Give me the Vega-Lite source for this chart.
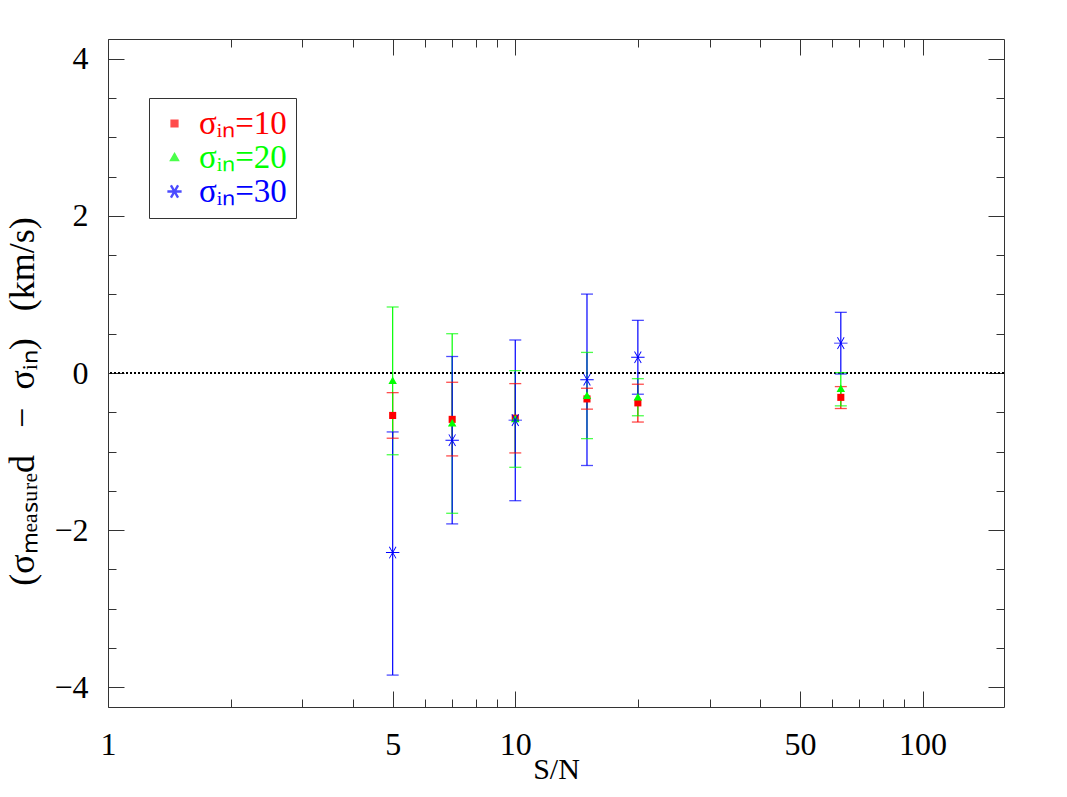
{
  "$schema": "https://vega.github.io/schema/vega-lite/v6.json",
  "width": 896,
  "height": 668,
  "autosize": {"type": "none"},
  "padding": {"left": 108, "top": 39, "right": 63, "bottom": 90},
  "background": "white",
  "data": {
    "values": [
      {"sn": 5, "series": "10", "y": -0.54, "lo": -0.83, "hi": -0.25},
      {"sn": 7, "series": "10", "y": -0.59, "lo": -1.055, "hi": -0.118},
      {"sn": 10, "series": "10", "y": -0.575, "lo": -1.017, "hi": -0.135},
      {"sn": 15, "series": "10", "y": -0.33, "lo": -0.46, "hi": -0.194},
      {"sn": 20, "series": "10", "y": -0.38, "lo": -0.624, "hi": -0.143},
      {"sn": 63, "series": "10", "y": -0.31, "lo": -0.452, "hi": -0.173},
      {"sn": 5, "series": "20", "y": -0.1, "lo": -1.04, "hi": 0.84},
      {"sn": 7, "series": "20", "y": -0.64, "lo": -1.785, "hi": 0.5},
      {"sn": 10, "series": "20", "y": -0.585, "lo": -1.2, "hi": 0.03},
      {"sn": 15, "series": "20", "y": -0.29, "lo": -0.835, "hi": 0.262},
      {"sn": 20, "series": "20", "y": -0.31, "lo": -0.544, "hi": -0.072},
      {"sn": 63, "series": "20", "y": -0.2, "lo": -0.418, "hi": 0.005},
      {"sn": 5, "series": "30", "y": -2.285, "lo": -3.844, "hi": -0.75},
      {"sn": 7, "series": "30", "y": -0.855, "lo": -1.92, "hi": 0.21},
      {"sn": 10, "series": "30", "y": -0.6, "lo": -1.625, "hi": 0.42},
      {"sn": 15, "series": "30", "y": -0.085, "lo": -1.177, "hi": 1.004},
      {"sn": 20, "series": "30", "y": 0.2, "lo": -0.27, "hi": 0.67},
      {"sn": 63, "series": "30", "y": 0.38, "lo": -0.013, "hi": 0.772}
    ]
  },
  "resolve": {"axis": {"x": "independent", "y": "independent"}},
  "layer": [
    {
      "mark": {"type": "rule", "color": "black", "strokeWidth": 1, "strokeDash": [1.5, 2.5]},
      "encoding": {
        "y": {"datum": 0, "type": "quantitative", "scale": {"domain": [-4.25, 4.25], "nice": false, "zero": false}, "axis": null}
      }
    },
    {
      "mark": {"type": "rule", "strokeWidth": 1.2},
      "encoding": {
        "x": {"field": "sn", "type": "quantitative",
          "scale": {"type": "log", "domain": [1, 158.5], "nice": false},
          "axis": {"orient": "bottom", "values": [1, 5, 10, 50, 100], "format": "d", "tickSize": -16, "labelPadding": 38, "labelFlush": false, "labelOverlap": false, "title": "S/N", "titlePadding": -6}},
        "y": {"field": "lo", "type": "quantitative",
          "scale": {"domain": [-4.25, 4.25], "nice": false, "zero": false},
          "axis": {"orient": "left", "values": [-4, -2, 0, 2, 4], "format": "d", "tickSize": -16, "labelPadding": 36, "labelFlush": false, "labelOverlap": false, "title": "(σₘₑₐₛᵤᵣₑd\u00a0\u00a0\u00a0−\u00a0\u00a0σᵢₙ)\u00a0\u00a0\u00a0(km/s)", "titlePadding": 12, "titleFontSize": 36, "titleY": 362}},
        "y2": {"field": "hi"},
        "color": {"field": "series", "type": "nominal", "scale": {"domain": ["10", "20", "30"], "range": ["#ff0000", "#00ff00", "#0000ff"]}}
      }
    },
    {
      "mark": {"type": "tick", "orient": "horizontal", "size": 12, "thickness": 1.3},
      "encoding": {
        "x": {"field": "sn", "type": "quantitative",
          "scale": {"type": "log", "domain": [1, 158.5], "nice": false},
          "axis": {"orient": "bottom", "values": [2, 3, 4, 6, 7, 8, 9, 20, 30, 40, 60, 70, 80, 90], "tickSize": -8, "labels": false, "title": null}},
        "y": {"field": "lo", "type": "quantitative",
          "scale": {"domain": [-4.25, 4.25], "nice": false, "zero": false},
          "axis": {"orient": "left", "values": [-3.5, -3, -2.5, -1.5, -1, -0.5, 0.5, 1, 1.5, 2.5, 3, 3.5], "tickSize": -8, "labels": false, "title": null}},
        "color": {"field": "series", "type": "nominal", "scale": {"domain": ["10", "20", "30"], "range": ["#ff0000", "#00ff00", "#0000ff"]}}
      }
    },
    {
      "mark": {"type": "tick", "orient": "horizontal", "size": 12, "thickness": 1.3},
      "encoding": {
        "x": {"field": "sn", "type": "quantitative",
          "scale": {"type": "log", "domain": [1, 158.5], "nice": false},
          "axis": {"orient": "top", "values": [1, 5, 10, 50, 100], "tickSize": -16, "labels": false, "title": null}},
        "y": {"field": "hi", "type": "quantitative",
          "scale": {"domain": [-4.25, 4.25], "nice": false, "zero": false},
          "axis": {"orient": "right", "values": [-4, -2, 0, 2, 4], "tickSize": -16, "labels": false, "title": null}},
        "color": {"field": "series", "type": "nominal", "scale": {"domain": ["10", "20", "30"], "range": ["#ff0000", "#00ff00", "#0000ff"]}}
      }
    },
    {
      "mark": {"type": "point", "filled": true, "opacity": 1, "size": 200},
      "encoding": {
        "x": {"field": "sn", "type": "quantitative",
          "scale": {"type": "log", "domain": [1, 158.5], "nice": false},
          "axis": {"orient": "top", "values": [2, 3, 4, 6, 7, 8, 9, 20, 30, 40, 60, 70, 80, 90], "tickSize": -8, "labels": false, "title": null}},
        "y": {"field": "y", "type": "quantitative",
          "scale": {"domain": [-4.25, 4.25], "nice": false, "zero": false},
          "axis": {"orient": "right", "values": [-3.5, -3, -2.5, -1.5, -1, -0.5, 0.5, 1, 1.5, 2.5, 3, 3.5], "tickSize": -8, "labels": false, "title": null}},
        "color": {"field": "series", "type": "nominal", "scale": {"domain": ["10", "20", "30"], "range": ["#ff0000", "#00ff00", "#0000ff"]},
          "legend": {"orient": "none", "legendX": 41, "legendY": 59, "title": null, "strokeColor": "#333", "fillColor": "white", "padding": 9, "rowPadding": 0, "labelFont": "Liberation Serif", "labelFontSize": 33, "labelOffset": 8, "symbolOpacity": 1, "symbolSize": 180, "labelExpr": "'σᵢₙ=' + datum.label", "labelColor": {"expr": "scale('color', datum.value)"}}},
        "shape": {"field": "series", "type": "nominal", "scale": {"domain": ["10", "20", "30"], "range": ["M-0.5,-0.5L0.5,-0.5L0.5,0.5L-0.5,0.5Z", "M0,-0.6L0.6,0.45L-0.6,0.45Z", "M-0.95,-0.065L0.95,-0.065L0.95,0.065L-0.95,0.065ZM-0.531,-0.79L-0.419,-0.855L0.531,0.79L0.419,0.855ZM0.419,-0.855L0.531,-0.79L-0.419,0.855L-0.531,0.79Z"]}}
      }
    }
  ],
  "config": {
    "view": {"stroke": "#333", "strokeWidth": 1},
    "axis": {
      "domain": false,
      "grid": false,
      "tickColor": "#333",
      "tickWidth": 1,
      "labelFont": "Liberation Serif",
      "labelFontSize": 32,
      "labelColor": "black",
      "titleFont": "Liberation Serif",
      "titleFontSize": 30,
      "titleFontWeight": "normal",
      "titleColor": "black"
    },
    "legend": {"labelFont": "Liberation Serif"}
  }
}
